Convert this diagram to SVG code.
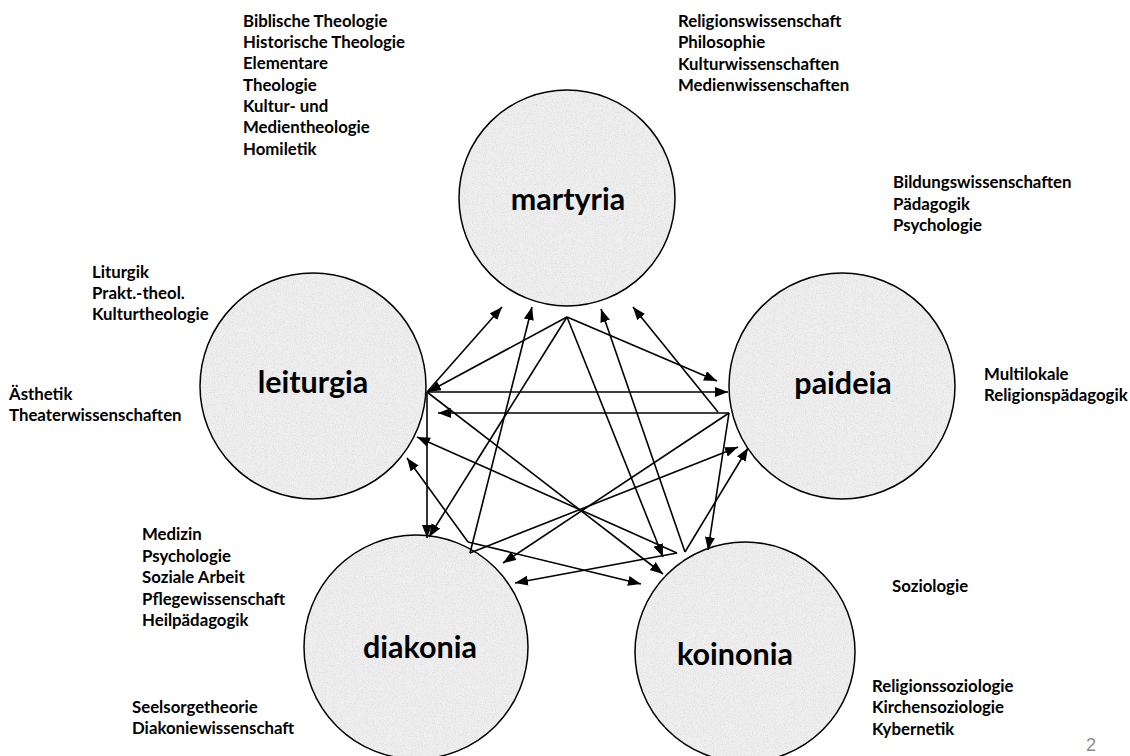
<svg xmlns="http://www.w3.org/2000/svg" width="1130" height="756" viewBox="0 0 1130 756">
<style>
.lbl{font-family:Lato,"Liberation Sans",sans-serif;font-weight:bold;font-size:16.8px;fill:#000}
.big{font-family:Lato,"Liberation Sans",sans-serif;font-weight:bold;font-size:30.5px;fill:#000;text-anchor:middle}
.disk{fill:#efefef;filter:url(#tex)}
.ring{fill:none;stroke:#000;stroke-width:1.5}
.con line{stroke:#000;stroke-width:1.6;marker-end:url(#ah)}
.pg{font-family:"Liberation Sans",sans-serif;font-size:18px;fill:#8c8c8c}
</style>
<defs>
<filter id="tex" x="0" y="0" width="100%" height="100%">
<feTurbulence type="fractalNoise" baseFrequency="0.9" numOctaves="3" seed="4" result="n"/>
<feColorMatrix in="n" type="matrix" values="0 0 0 0 0.68  0 0 0 0 0.68  0 0 0 0 0.68  1.8 0 0 0 -0.8" result="g"/>
<feComposite in="g" in2="SourceGraphic" operator="atop"/>
</filter>
<marker id="ah" markerUnits="userSpaceOnUse" markerWidth="14" markerHeight="11" refX="13" refY="5" orient="auto" viewBox="0 0 14 11">
<path d="M0,0 L13,5 L0,10 z" fill="#000"/>
</marker>
</defs>
<rect width="1130" height="756" fill="#fff"/>

<g id="martyria">
<circle class="disk" cx="567" cy="198" r="108"/>
<circle class="ring" cx="567" cy="198" r="108"/>
<text class="big" x="568" y="210">martyria</text>
</g>
<g id="leiturgia">
<circle class="disk" cx="313" cy="386" r="113"/>
<circle class="ring" cx="313" cy="386" r="113"/>
<text class="big" x="313" y="393">leiturgia</text>
</g>
<g id="paideia">
<circle class="disk" cx="842" cy="386" r="113"/>
<circle class="ring" cx="842" cy="386" r="113"/>
<text class="big" x="843" y="394">paideia</text>
</g>
<g id="diakonia">
<circle class="disk" cx="416" cy="647" r="112"/>
<circle class="ring" cx="416" cy="647" r="112"/>
<text class="big" x="420" y="658">diakonia</text>
</g>
<g id="koinonia">
<circle class="disk" cx="745" cy="652" r="110"/>
<circle class="ring" cx="745" cy="652" r="110"/>
<text class="big" x="735" y="665">koinonia</text>
</g>

<g id="connectors" class="con">
<line x1="567" y1="317" x2="428" y2="392"/>
<line x1="567" y1="317" x2="717" y2="381"/>
<line x1="567" y1="317" x2="429" y2="537"/>
<line x1="567" y1="317" x2="663" y2="557"/>
<line x1="427" y1="392" x2="502" y2="307"/>
<line x1="427" y1="392" x2="728" y2="392"/>
<line x1="427" y1="392" x2="427" y2="538"/>
<line x1="427" y1="392" x2="663" y2="574"/>
<line x1="718" y1="412" x2="633" y2="307"/>
<line x1="729" y1="413" x2="438" y2="413"/>
<line x1="729" y1="413" x2="503" y2="563"/>
<line x1="729" y1="413" x2="708" y2="550"/>
<line x1="470" y1="553" x2="738" y2="447"/>
<line x1="470" y1="553" x2="532" y2="307"/>
<line x1="468" y1="542" x2="407" y2="458"/>
<line x1="468" y1="542" x2="641" y2="584"/>
<line x1="685" y1="552" x2="601" y2="309"/>
<line x1="685" y1="552" x2="748" y2="448"/>
<line x1="677" y1="553" x2="417" y2="437"/>
<line x1="677" y1="553" x2="515" y2="583"/>
</g>

<g id="labels">
<text class="lbl" x="243" y="27">Biblische Theologie</text>
<text class="lbl" x="243" y="48">Historische Theologie</text>
<text class="lbl" x="243" y="69">Elementare</text>
<text class="lbl" x="243" y="91">Theologie</text>
<text class="lbl" x="243" y="112">Kultur- und</text>
<text class="lbl" x="243" y="133">Medientheologie</text>
<text class="lbl" x="243" y="155">Homiletik</text>

<text class="lbl" x="678" y="27">Religionswissenschaft</text>
<text class="lbl" x="678" y="48">Philosophie</text>
<text class="lbl" x="678" y="70">Kulturwissenschaften</text>
<text class="lbl" x="678" y="91">Medienwissenschaften</text>

<text class="lbl" x="893" y="188">Bildungswissenschaften</text>
<text class="lbl" x="893" y="210">Pädagogik</text>
<text class="lbl" x="893" y="231">Psychologie</text>

<text class="lbl" x="92" y="278">Liturgik</text>
<text class="lbl" x="92" y="299">Prakt.-theol.</text>
<text class="lbl" x="92" y="320">Kulturtheologie</text>

<text class="lbl" x="9" y="400">Ästhetik</text>
<text class="lbl" x="9" y="421">Theaterwissenschaften</text>

<text class="lbl" x="984" y="380">Multilokale</text>
<text class="lbl" x="984" y="401">Religionspädagogik</text>

<text class="lbl" x="142" y="540">Medizin</text>
<text class="lbl" x="142" y="562">Psychologie</text>
<text class="lbl" x="142" y="583">Soziale Arbeit</text>
<text class="lbl" x="142" y="605">Pflegewissenschaft</text>
<text class="lbl" x="142" y="626">Heilpädagogik</text>

<text class="lbl" x="132" y="713">Seelsorgetheorie</text>
<text class="lbl" x="132" y="734">Diakoniewissenschaft</text>

<text class="lbl" x="892" y="592">Soziologie</text>

<text class="lbl" x="872" y="692">Religionssoziologie</text>
<text class="lbl" x="872" y="713">Kirchensoziologie</text>
<text class="lbl" x="872" y="735">Kybernetik</text>

<text class="pg" x="1086" y="751">2</text>
</g>
</svg>
